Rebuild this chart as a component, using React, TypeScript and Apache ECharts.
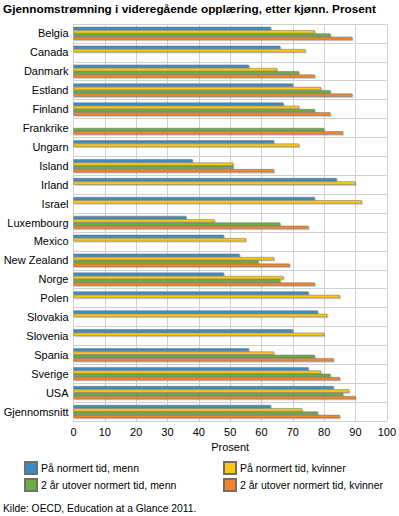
import React, { useEffect, useRef } from "react";
import * as echarts from "echarts";

const categories = [
  "Belgia", "Canada", "Danmark", "Estland", "Finland", "Frankrike", "Ungarn",
  "Island", "Irland", "Israel", "Luxembourg", "Mexico", "New Zealand", "Norge",
  "Polen", "Slovakia", "Slovenia", "Spania", "Sverige", "USA", "Gjennomsnitt",
];

const seriesNames = [
  "På normert tid, menn",
  "På normert tid, kvinner",
  "2 år utover normert tid, menn",
  "2 år utover normert tid, kvinner",
];

const menNormert = [63, 66, 56, 70, 67, null, 64, 38, 84, 77, 36, 48, 53, 48, 75, 78, 70, 56, 75, 83, 63];
const kvinnerNormert = [77, 74, 65, 79, 72, null, 72, 51, 90, 92, 45, 55, 64, 67, 85, 81, 80, 64, 79, 88, 73];
const menUtover = [82, null, 72, 82, 77, 80, null, 51, null, null, 66, null, 59, 66, null, null, null, 77, 82, 86, 78];
const kvinnerUtover = [89, null, 77, 89, 82, 86, null, 64, null, null, 75, null, 69, 77, null, null, null, 83, 85, 90, 85];

const xTicks = [0, 100, 10];
const colors = ["#3a8dc6", "#fcc80e", "#69ad45", "#f2852a"];

const FONT = "Liberation Sans";

export default function App() {
  const ref = useRef<HTMLDivElement>(null);
  useEffect(() => {
    document.body.style.margin = "0";
    const chart = echarts.init(ref.current!, null, { renderer: "svg" });
    const data = [menNormert, kvinnerNormert, menUtover, kvinnerUtover];
    const legendPos = [
      { left: 24, top: 461 },
      { left: 223, top: 461 },
      { left: 24, top: 478 },
      { left: 223, top: 478 },
    ];
    chart.setOption({
      animation: false,
      textStyle: { fontFamily: FONT },
      title: {
        text: "Gjennomstrømning i videregående opplæring, etter kjønn. Prosent",
        left: 3,
        top: 3,
        padding: 0,
        textStyle: { fontSize: 11.8, fontWeight: "bold", color: "#000", fontFamily: FONT },
      },
      grid: { left: 73.5, right: 9.5, top: 24, bottom: 95, containLabel: false },
      xAxis: {
        type: "value",
        min: xTicks[0],
        max: xTicks[1],
        interval: xTicks[2],
        name: "Prosent",
        nameLocation: "middle",
        nameGap: 19,
        nameTextStyle: { fontSize: 11, color: "#000", fontFamily: FONT },
        axisLine: { show: true, lineStyle: { color: "#d0d0d0", width: 1 } },
        axisTick: { show: false },
        axisLabel: { fontSize: 11, color: "#000", margin: 5, fontFamily: FONT },
        splitLine: { show: true, lineStyle: { color: "#d0d0d0", width: 1 } },
      },
      yAxis: {
        type: "category",
        data: categories,
        inverse: true,
        axisLine: { show: true, lineStyle: { color: "#d0d0d0", width: 1 } },
        axisTick: { show: false },
        axisLabel: { fontSize: 11, color: "#000", margin: 5, fontFamily: FONT },
        splitLine: { show: true, lineStyle: { color: "#d0d0d0", width: 1 } },
      },
      legend: seriesNames.map((n, i) => ({
        data: [n],
        ...legendPos[i],
        padding: 0,
        itemWidth: 12,
        itemHeight: 12,
        icon: "rect",
        textStyle: { fontSize: 10.5, color: "#000", padding: [0, 0, 0, -1], fontFamily: FONT },
      })),
      graphic: [
        {
          type: "text",
          left: 3,
          top: 503,
          style: { text: "Kilde: OECD, Education at a Glance 2011.", fontSize: 10.3, fill: "#000", fontFamily: FONT },
        },
      ],
      series: data.map((d, i) => ({
        name: seriesNames[i],
        type: "bar",
        data: d,
        barWidth: 3.3,
        barGap: "0%",
        itemStyle: {
          color: colors[i],
          borderColor: "#6f6f6f",
          borderWidth: 0.5,
          shadowColor: "rgba(0,0,0,0.25)",
          shadowOffsetX: 1,
          shadowOffsetY: 1,
          shadowBlur: 1,
        },
      })),
    });
    return () => chart.dispose();
  }, []);
  return <div ref={ref} style={{ width: 399, height: 516 }} />;
}
